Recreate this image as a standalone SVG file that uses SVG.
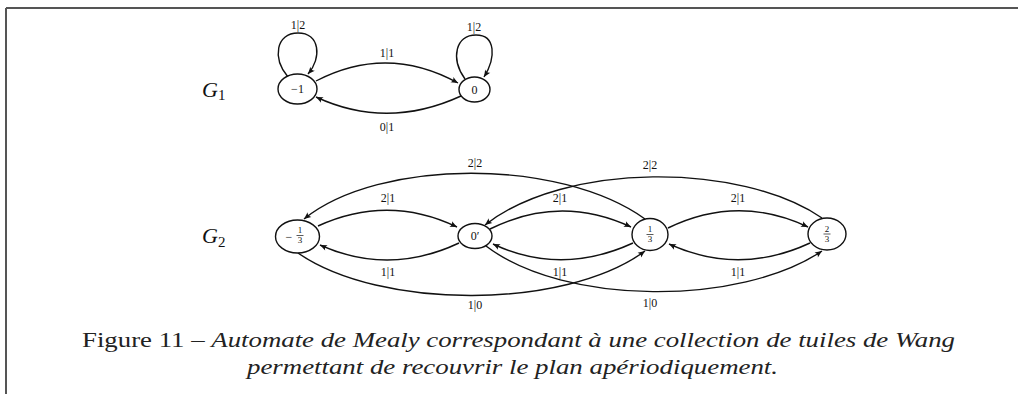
<svg xmlns="http://www.w3.org/2000/svg" width="1018" height="394" viewBox="0 0 1018 394">
<style>
.node{fill:#fff;stroke:#111;stroke-width:1.4}
.edge{fill:none;stroke:#111;stroke-width:1.4;marker-end:url(#arr)}
text{font-family:'Liberation Serif','Times New Roman',Times,serif}
.lbl{font-size:12px;fill:#111;text-anchor:middle}
.nl{font-size:12px;fill:#111;text-anchor:middle}
.fr{font-size:9px;fill:#111;text-anchor:middle}
.g{font-style:italic;font-size:22px;fill:#111}
.cap{font-size:22px;fill:#222}
</style>
<defs>
<marker id="arr" markerUnits="userSpaceOnUse" markerWidth="10" markerHeight="10" refX="0" refY="0" viewBox="-8 -5 10 10" orient="auto">
<path d="M0,0 L-7,-3 Q-4.5,0 -7,3 Z" fill="#111"/>
</marker>
</defs>
<rect width="1018" height="394" fill="#fff"/>
<g id="frame" stroke="#555" stroke-width="2" fill="none">
<line x1="6" y1="8" x2="1018" y2="8"/>
<line x1="6" y1="8" x2="6" y2="394"/>
</g>
<g id="labels-g">
<text class="g" x="202" y="97">G<tspan font-style="normal" font-size="15" dy="3">1</tspan></text>
<text class="g" x="202" y="243">G<tspan font-style="normal" font-size="15" dy="4">2</tspan></text>
</g>
<g id="connectors">
<path class="edge" d="M288 77 C272 58 276 33 298 33 C320 33 322 58 308 74"/>
<path class="edge" d="M465 79 C450 58 456 35 476 35 C496 35 496 58 484 77"/>
<path class="edge" d="M316 81 Q387 44 458 83"/>
<path class="edge" d="M461 96 Q387 130 316 97"/>
<path class="edge" d="M318 226 Q388 194 457 227"/>
<path class="edge" d="M459 243 Q389 276 320 245"/>
<path class="edge" d="M490 229 Q560 194 631 227"/>
<path class="edge" d="M633 243 Q561 276 493 244"/>
<path class="edge" d="M668 228 Q738 194 808 227"/>
<path class="edge" d="M810 243 Q739 276 669 244"/>
<path class="edge" d="M645 219 C560 158 380 158 304 219"/>
<path class="edge" d="M822 218 C740 162 565 162 485 225"/>
<path class="edge" d="M298 253 C380 310 565 310 645 251"/>
<path class="edge" d="M486 246 C565 306 740 306 822 251"/>
</g>
<g id="edge-labels">
<text class="lbl" x="298" y="29">1|2</text>
<text class="lbl" x="474" y="31">1|2</text>
<text class="lbl" x="387" y="57">1|1</text>
<text class="lbl" x="387" y="131">0|1</text>
<text class="lbl" x="475" y="167">2|2</text>
<text class="lbl" x="650" y="169">2|2</text>
<text class="lbl" x="388" y="202">2|1</text>
<text class="lbl" x="560" y="202">2|1</text>
<text class="lbl" x="738" y="202">2|1</text>
<text class="lbl" x="388" y="276">1|1</text>
<text class="lbl" x="560" y="276">1|1</text>
<text class="lbl" x="738" y="276">1|1</text>
<text class="lbl" x="475" y="309">1|0</text>
<text class="lbl" x="650" y="307">1|0</text>
</g>
<g id="n-m1">
<ellipse class="node" cx="297.5" cy="89" rx="19.5" ry="15"/>
<text class="nl" x="297.5" y="93">−1</text>
</g>
<g id="n-0">
<ellipse class="node" cx="474.5" cy="89.5" rx="15.5" ry="12.5"/>
<text class="nl" x="474.5" y="93.5">0</text>
</g>
<g id="n-m13">
<ellipse class="node" cx="297.5" cy="236.5" rx="22" ry="16.5"/>
<text class="nl" x="289" y="240.5">−</text>
<text class="fr" x="300" y="233">1</text>
<line x1="296.5" y1="235.5" x2="303.5" y2="235.5" stroke="#111" stroke-width="0.7"/>
<text class="fr" x="300" y="243">3</text>
</g>
<g id="n-0p">
<ellipse class="node" cx="475" cy="236" rx="17" ry="12.5"/>
<text class="nl" x="475" y="240">0′</text>
</g>
<g id="n-13">
<ellipse class="node" cx="650" cy="234.5" rx="18" ry="16"/>
<text class="fr" x="650" y="232">1</text>
<line x1="646.5" y1="234.5" x2="653.5" y2="234.5" stroke="#111" stroke-width="0.7"/>
<text class="fr" x="650" y="242">3</text>
</g>
<g id="n-23">
<ellipse class="node" cx="827" cy="234" rx="19" ry="16"/>
<text class="fr" x="827" y="231.5">2</text>
<line x1="823.5" y1="234" x2="830.5" y2="234" stroke="#111" stroke-width="0.7"/>
<text class="fr" x="827" y="241.5">3</text>
</g>
<g id="caption">
<text class="cap" x="82" y="347" textLength="873" lengthAdjust="spacingAndGlyphs">Figure 11 – <tspan font-style="italic">Automate de Mealy correspondant à une collection de tuiles de Wang</tspan></text>
<text class="cap" font-style="italic" x="247" y="374" textLength="531" lengthAdjust="spacingAndGlyphs">permettant de recouvrir le plan apériodiquement.</text>
</g>
</svg>
